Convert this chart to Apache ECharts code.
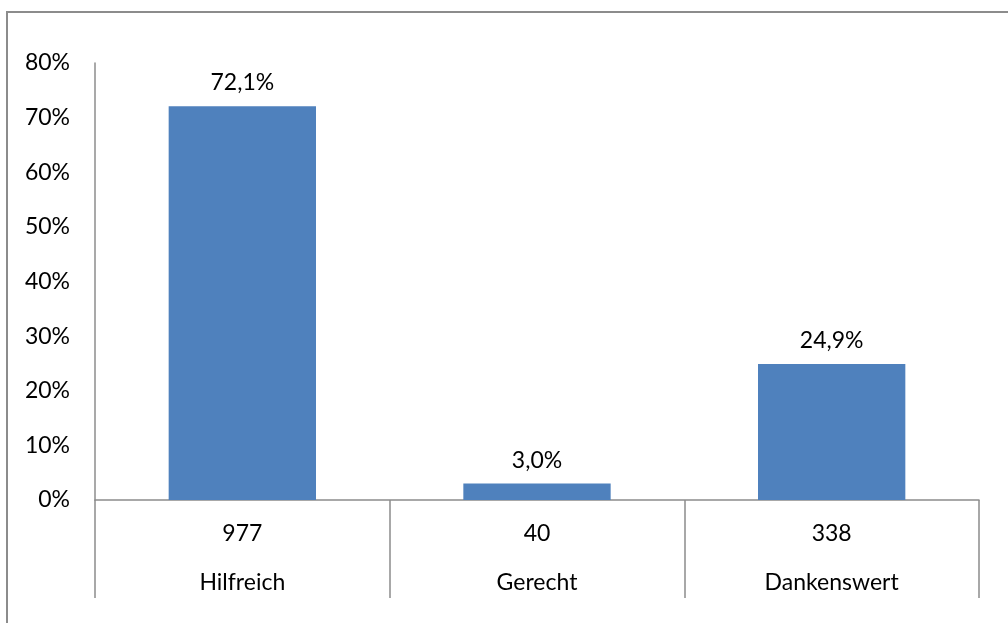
<!DOCTYPE html>
<html>
<head>
<meta charset="utf-8">
<script src="https://cdn.jsdelivr.net/npm/echarts@6/dist/echarts.min.js"></script>
<style>
html,body{margin:0;padding:0;background:#fff;}
#c{width:1008px;height:623px;}
</style>
</head>
<body>
<div id="c"></div>
<script>
var categories = ['Hilfreich', 'Gerecht', 'Dankenswert'];
var counts = [977, 40, 338];
var shares = [72.1, 3.0, 24.9];
var yTicks = [0, 10, 20, 30, 40, 50, 60, 70, 80];

var FONT = 'Lato, "Open Sans", sans-serif';
var FS = 23;
var chart = echarts.init(document.getElementById('c'), null, {renderer: 'canvas'});
chart.setOption({
  animation: false,
  backgroundColor: '#fff',
  graphic: [{
    type: 'rect',
    shape: {x: 7, y: 12, width: 1200, height: 800},
    style: {fill: 'none', stroke: '#8c8c8c', lineWidth: 2},
    silent: true
  }],
  grid: {left: 95, right: 29, top: 63, bottom: 123, containLabel: false},
  xAxis: {
    type: 'category',
    data: categories,
    boundaryGap: true,
    axisLine: {show: true, lineStyle: {color: '#8c8c8c', width: 1.5}},
    axisTick: {show: true, interval: 0, length: 98, alignWithLabel: false, lineStyle: {color: '#8c8c8c', width: 1.5}},
    axisLabel: {
      interval: 0,
      margin: 9,
      fontFamily: FONT,
      fontSize: FS,
      color: '#000',
      lineHeight: 49,
      formatter: function (v, i) { return counts[i] + '\n' + v; }
    }
  },
  yAxis: {
    type: 'value',
    min: yTicks[0],
    max: yTicks[yTicks.length - 1],
    interval: 10,
    splitLine: {show: false},
    axisLine: {show: true, lineStyle: {color: '#8c8c8c', width: 1.5}},
    axisTick: {show: false},
    axisLabel: {
      margin: 25,
      fontFamily: FONT,
      fontSize: FS,
      color: '#000',
      formatter: function (v) { return v + '%'; }
    }
  },
  series: [{
    type: 'bar',
    data: shares,
    barWidth: '50%',
    itemStyle: {color: '#4f81bd'},
    label: {
      show: true,
      position: 'top',
      distance: 12,
      fontFamily: FONT,
      fontSize: FS,
      color: '#000',
      formatter: function (p) { return p.value.toFixed(1).replace('.', ',') + '%'; }
    }
  }]
});
</script>
</body>
</html>
